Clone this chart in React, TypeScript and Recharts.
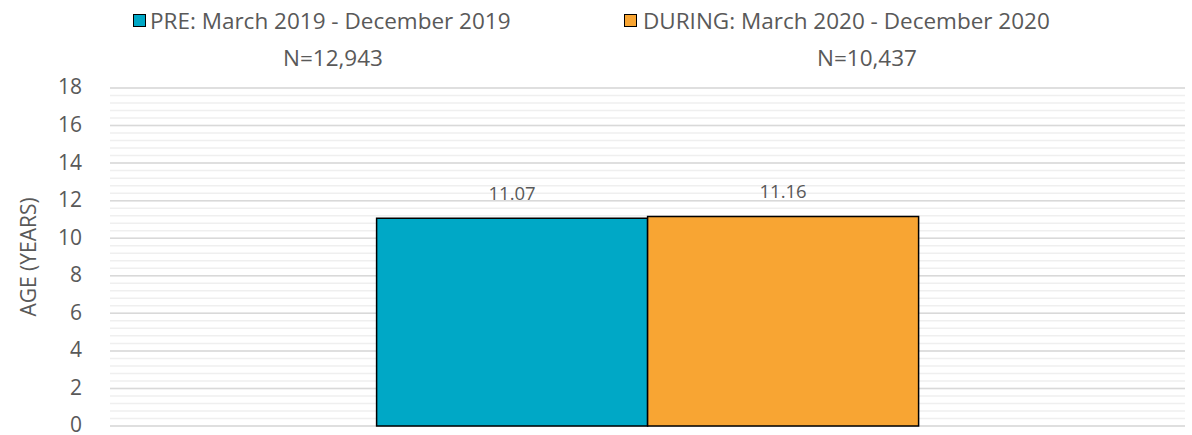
import React from 'react'
import { BarChart, Bar, XAxis, YAxis, CartesianGrid, LabelList } from 'recharts'

const categories = ['Age']
const seriesNames = ['PRE: March 2019 - December 2019', 'DURING: March 2020 - December 2020']
const sampleSizes = ['N=12,943', 'N=10,437']
const preValues = [11.07]
const duringValues = [11.16]
const yTicks = [0, 2, 4, 6, 8, 10, 12, 14, 16, 18]
const Y_MAX = 18
const minorTicks = Array.from({ length: 46 }, (_, i) => Math.round(i * 4) / 10)

const COLORS = ['#00a8c6', '#f8a533']
const TEXT = '#595959'
const FONT = '"Open Sans", "Noto Sans", sans-serif'

const data = categories.map((c, i) => ({
  name: c,
  pre: preValues[i],
  during: duringValues[i],
}))

// legend positions
const LEGEND_POS = [
  { box: 133, text: 150, n: 333 },
  { box: 624, text: 643, n: 867 },
]

function LegendBlock() {
  return (
    <div style={{ position: 'absolute', left: 0, top: 0, width: 1192, height: 80, fontFamily: FONT, color: TEXT }}>
      {seriesNames.map((name, i) => (
        <React.Fragment key={name}>
          <div
            style={{
              position: 'absolute',
              left: LEGEND_POS[i].box,
              top: 14,
              width: 11,
              height: 11,
              background: COLORS[i],
              border: '1.5px solid #000',
            }}
          />
          <div
            style={{
              position: 'absolute',
              left: LEGEND_POS[i].text,
              top: 5,
              fontSize: 22.5,
              whiteSpace: 'nowrap',
              lineHeight: '32px',
            }}
          >
            {name}
          </div>
          <div
            style={{
              position: 'absolute',
              left: LEGEND_POS[i].n,
              top: 42,
              transform: 'translateX(-50%)',
              fontSize: 22.5,
              whiteSpace: 'nowrap',
              lineHeight: '32px',
            }}
          >
            {sampleSizes[i]}
          </div>
        </React.Fragment>
      ))}
    </div>
  )
}

// minor gridlines every 0.4 years
const minorLines = ({ yAxis, offset }: any) => {
  if (yAxis && typeof yAxis.scale === 'function') {
    return minorTicks.map((t) => yAxis.scale(t))
  }
  return minorTicks.map((t) => offset.top + offset.height * (1 - t / Y_MAX))
}

export default function App() {
  return (
    <div style={{ position: 'absolute', left: 0, top: 0, width: 1192, height: 435, background: '#fff' }}>
      <BarChart
        width={1192}
        height={435}
        data={data}
        margin={{ top: 88, right: 7, bottom: 9, left: 0 }}
        barCategoryGap="24.8%"
        barGap={0}
      >
        <XAxis dataKey="name" hide />
        <YAxis
          width={110}
          domain={[0, Y_MAX]}
          ticks={yTicks}
          interval={0}
          axisLine={false}
          tickLine={false}
          tickMargin={22}
          tick={{ fill: TEXT, fontSize: 21, fontFamily: FONT, dy: -1 }}
          label={{
            value: 'AGE (YEARS)',
            angle: -90,
            position: 'insideLeft',
            dx: 24,
            dy: 0,
            style: { fill: TEXT, fontSize: 21, fontFamily: FONT, textAnchor: 'middle' },
          }}
        />
        <CartesianGrid vertical={false} stroke="#efefef" strokeWidth={1.5} horizontalCoordinatesGenerator={minorLines} />
        <CartesianGrid vertical={false} stroke="#d9d9d9" strokeWidth={1.5} />
        <Bar dataKey="pre" name={seriesNames[0]} fill={COLORS[0]} stroke="#000" strokeWidth={1.5} isAnimationActive={false}>
          <LabelList dataKey="pre" position="top" offset={18} formatter={(v: number) => v.toFixed(2)} style={{ fill: TEXT, fontSize: 18.5, fontFamily: FONT }} />
        </Bar>
        <Bar dataKey="during" name={seriesNames[1]} fill={COLORS[1]} stroke="#000" strokeWidth={1.5} isAnimationActive={false}>
          <LabelList dataKey="during" position="top" offset={18} formatter={(v: number) => v.toFixed(2)} style={{ fill: TEXT, fontSize: 18.5, fontFamily: FONT }} />
        </Bar>
      </BarChart>
      <LegendBlock />
    </div>
  )
}
